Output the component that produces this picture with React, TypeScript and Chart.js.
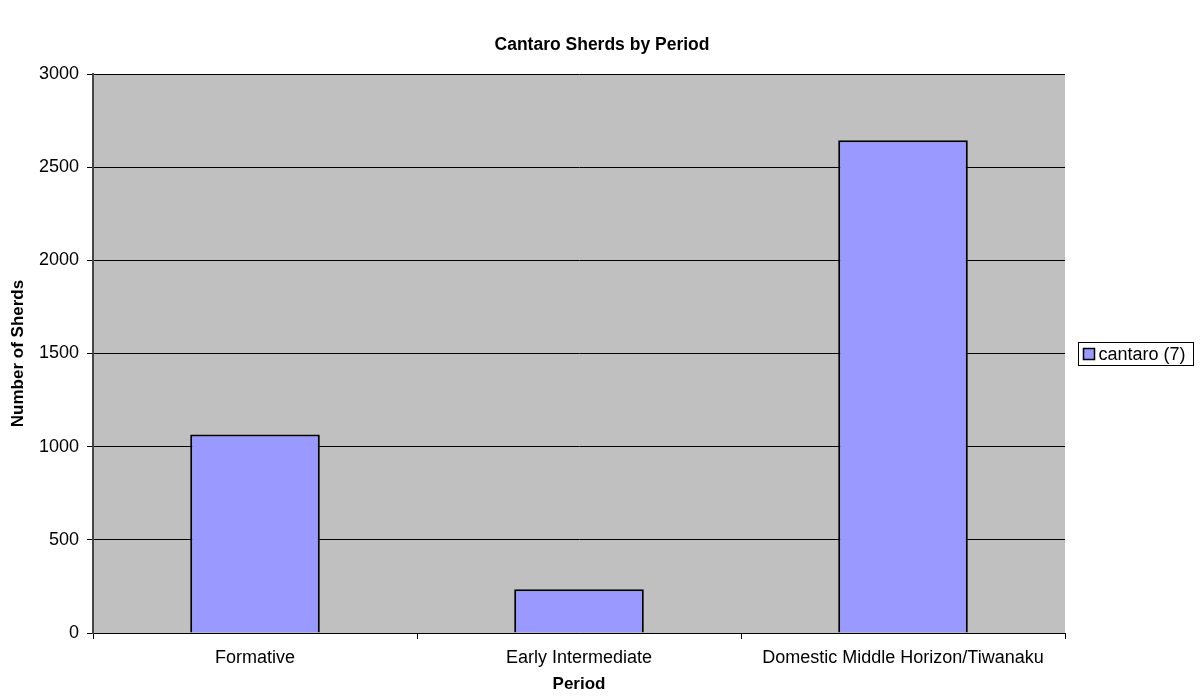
import { useEffect, useRef } from "react";
import { Chart, registerables } from "chart.js";

Chart.register(...registerables);

// Sherd counts per period
const periods = ["Formative", "Early Intermediate", "Domestic Middle Horizon/Tiwanaku"];
const cantaroCounts = [1065, 235, 2645];
const seriesLabel = "cantaro (7)";

// Axis and titles
const yMin = 0;
const yMax = 3000;
const yStep = 500;
const chartTitle = "Cantaro Sherds by Period";
const xTitle = "Period";
const yTitle = "Number of Sherds";

const FONT = '"Liberation Sans", Arial, sans-serif';
const TICK_SIZE = 18;
const BAR_FILL = "#9999FF";
const PLOT_BG = "#C0C0C0";

// Grey plot area behind the bars
const plotBackground = {
  id: "plotBackground",
  beforeDraw(chart: any) {
    const { ctx, chartArea } = chart;
    ctx.save();
    ctx.fillStyle = PLOT_BG;
    ctx.fillRect(chartArea.left, chartArea.top, chartArea.right - chartArea.left, chartArea.bottom - chartArea.top);
    ctx.restore();
  },
};

// Centred bold title above the plot
const titleText = {
  id: "titleText",
  afterDraw(chart: any) {
    const { ctx } = chart;
    ctx.save();
    ctx.font = `bold 17.5px ${FONT}`;
    ctx.fillStyle = "#000";
    ctx.textAlign = "center";
    ctx.textBaseline = "middle";
    ctx.fillText(chartTitle, chart.width / 2, 45);
    ctx.restore();
  },
};

// Boxed legend to the right of the plot
const boxedLegend = {
  id: "boxedLegend",
  afterDraw(chart: any) {
    const { ctx, chartArea } = chart;
    const ds = chart.data.datasets[0];
    ctx.save();
    ctx.font = `${TICK_SIZE}px ${FONT}`;
    const tw = ctx.measureText(ds.label).width;
    const pad = 5;
    const mk = 11;
    const gap = 4;
    const boxH = 23;
    const boxW = Math.round(pad + mk + gap + tw + pad + 3);
    const bx = Math.round(chartArea.right + 13) + 0.5;
    const by = Math.round((chartArea.top + chartArea.bottom) / 2 - boxH / 2) + 0.5;
    ctx.fillStyle = "#fff";
    ctx.fillRect(bx, by, boxW, boxH);
    ctx.strokeStyle = "#000";
    ctx.lineWidth = 1;
    ctx.strokeRect(bx, by, boxW, boxH);
    const mx = bx + pad;
    const my = by + Math.round((boxH - mk) / 2);
    ctx.fillStyle = ds.backgroundColor;
    ctx.fillRect(mx, my, mk, mk);
    ctx.lineWidth = 1.5;
    ctx.strokeRect(mx, my, mk, mk);
    ctx.fillStyle = "#000";
    ctx.textBaseline = "middle";
    ctx.textAlign = "left";
    ctx.fillText(ds.label, mx + mk + gap, by + boxH / 2 + 1);
    ctx.restore();
  },
};

export default function App() {
  const canvasRef = useRef<HTMLCanvasElement | null>(null);

  useEffect(() => {
    document.body.style.margin = "0";
    const canvas = canvasRef.current;
    if (!canvas) return;
    const chart = new Chart(canvas, {
      type: "bar",
      data: {
        labels: periods,
        datasets: [
          {
            label: seriesLabel,
            data: cantaroCounts,
            backgroundColor: BAR_FILL,
            borderColor: "#000",
            borderWidth: 2,
            categoryPercentage: 1,
            barPercentage: 0.4,
          },
        ],
      },
      options: {
        responsive: false,
        animation: false,
        devicePixelRatio: 1,
        layout: { padding: { top: 74, right: 139, bottom: 0, left: 0 } },
        plugins: {
          legend: { display: false },
          title: { display: false },
          tooltip: { enabled: false },
        },
        scales: {
          x: {
            afterFit(scale: any) {
              scale.height = 63;
            },
            grid: {
              offset: true,
              drawOnChartArea: false,
              drawTicks: true,
              tickLength: 6,
              color: "#000",
            },
            border: { display: true, color: "#000", width: 1 },
            ticks: {
              color: "#000",
              padding: 8,
              maxRotation: 0,
              autoSkip: false,
              font: { family: FONT, size: TICK_SIZE },
            },
            title: {
              display: true,
              text: xTitle,
              color: "#000",
              padding: { top: 0, bottom: 1 },
              font: { family: FONT, size: 17, weight: "bold" },
            },
          },
          y: {
            min: yMin,
            max: yMax,
            afterFit(scale: any) {
              scale.width = 93;
            },
            grid: {
              color: "#000",
              lineWidth: 1,
              tickLength: 6,
            },
            border: { display: true, color: "#444", width: 2 },
            ticks: {
              stepSize: yStep,
              color: "#000",
              padding: 8,
              callback: (v: any) => String(v),
              font: { family: FONT, size: TICK_SIZE },
            },
            title: {
              display: true,
              text: yTitle,
              color: "#000",
              padding: { top: 8, bottom: 0 },
              font: { family: FONT, size: 17, weight: "bold" },
            },
          },
        },
      },
      plugins: [plotBackground, titleText, boxedLegend],
    });
    return () => chart.destroy();
  }, []);

  return <canvas ref={canvasRef} width={1204} height={696} style={{ display: "block" }} />;
}
